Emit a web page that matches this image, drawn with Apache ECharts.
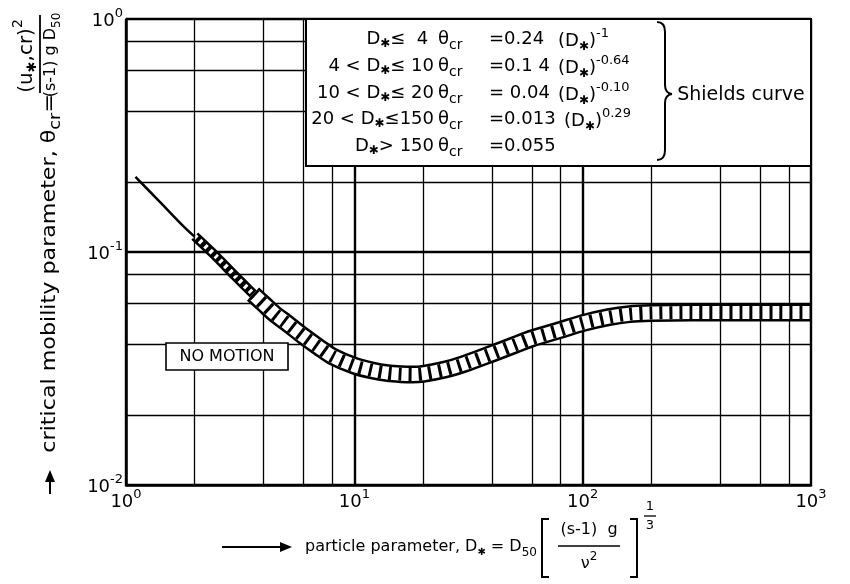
<!DOCTYPE html>
<html><head><meta charset="utf-8">
<script src="https://cdn.jsdelivr.net/npm/echarts@6/dist/echarts.min.js"></script>
<style>html,body{margin:0;padding:0;background:#fff}#c{width:850px;height:584px}</style>
</head><body><div id="c"></div>
<script>
// ---- data ----
const xTickValues = [1, 10, 100, 1000];
const yTickValues = [0.01, 0.1, 1];
const xMinorGrid = [2, 4, 6, 8, 20, 40, 60, 80, 200, 400, 600, 800];
const yMinorGrid = [0.02, 0.04, 0.06, 0.08, 0.2, 0.4, 0.6, 0.8];
// thin start of the Shields curve
const thinD     = [1.1, 1.4, 1.8, 2.2];
const thinTheta = [0.21, 0.165, 0.128, 0.107];
// narrow part of the band
const midD      = [2.0, 2.5, 3.0, 3.5, 4.0];
const midTheta  = [0.117, 0.095, 0.079, 0.068, 0.060];
// main hatched band (centre line)
const bandD     = [3.6, 4, 4.5, 5, 6, 7, 8, 10, 12, 14, 16, 18, 20, 25, 30, 40, 50, 60, 80, 100, 130, 160, 200, 300, 500, 700, 1000];
const bandTheta = [0.066, 0.060, 0.054, 0.050, 0.0435, 0.039, 0.0357, 0.0325, 0.031, 0.0302, 0.0299, 0.0298, 0.0300, 0.0313, 0.0330, 0.0366, 0.0398, 0.0426, 0.0463, 0.0495, 0.0525, 0.0541, 0.0547, 0.055, 0.055, 0.055, 0.055];

const F = 'DejaVu Sans';
const chart = echarts.init(document.getElementById('c'), null, {renderer: 'canvas'});
const pairs = (a, b) => a.map((v, i) => [v, b[i]]);

const labelRich = {
  b: {fontSize: 18, fontFamily: F, color: '#000', verticalAlign: 'bottom'},
  s: {fontSize: 13, fontFamily: F, color: '#000', verticalAlign: 'bottom', padding: [0, 0, 10, 0]}
};
const expFmt = v => '{b|10}{s|' + Math.round(Math.log10(v)) + '}';

const gridLineSeries = {
  type: 'line', data: [], silent: true, z: 1,
  markLine: {
    silent: true, symbol: ['none', 'none'], animation: false,
    label: {show: false},
    lineStyle: {color: '#000', width: 1.3, type: 'solid'},
    data: xMinorGrid.map(v => ({xAxis: v})).concat(yMinorGrid.map(v => ({yAxis: v})))
  }
};

const mk = (fs) => ({
  n: {fontSize: fs, fontFamily: F, fill: '#000', verticalAlign: 'bottom', padding: [0, 0, 4, 0]},
  d: {fontSize: Math.round(fs * 0.78), fontFamily: F, fill: '#000', verticalAlign: 'bottom', padding: [0, 0, 0, 0]},
  s: {fontSize: Math.round(fs * 0.72), fontFamily: F, fill: '#000', verticalAlign: 'bottom', padding: [0, 0, Math.round(fs * 0.8), 0]},
  st: {fontSize: Math.round(fs * 0.65), fontFamily: F, fill: '#000', verticalAlign: 'bottom', padding: [0, 0, 2, 0]}
});
const R = mk(18), R16 = mk(16), R20 = mk(20);
const txt = (x, y, text, extra, rich) => ({
  type: 'text', x: x, y: y, z: 110,
  style: Object.assign({text: text, fill: '#000', font: '18px "' + F + '"', rich: rich || R, verticalAlign: 'middle'}, extra || {})
});
const ln = (x1, y1, x2, y2, w) => ({type: 'line', z: 110, shape: {x1, y1, x2, y2}, style: {stroke: '#000', lineWidth: w || 2}});
const qc = (x1, y1, cx, cy, x2, y2) => ({type: 'bezierCurve', z: 110, shape: {x1, y1, cpx1: cx, cpy1: cy, x2, y2}, style: {stroke: '#000', lineWidth: 2, fill: null}});
const pl = (pts, w) => ({type: 'polyline', z: 110, shape: {points: pts}, style: {stroke: '#000', lineWidth: w || 2, fill: null}});

const DS = '{n|D}{st|✱}';
const conds = [DS + '{n|≤  4 }', '{n|4 < }' + DS + '{n|≤ 10}', '{n|10 < }' + DS + '{n|≤ 20}', '{n|20 < }' + DS + '{n|≤150}', DS + '{n|> 150}'];
const coefs = ['{n|=0.24}', '{n|=0.1 4}', '{n|= 0.04}', '{n|=0.013}', '{n|=0.055}'];
const pows  = ['{n|(}' + DS + '{n|)}{s|-1}', '{n|(}' + DS + '{n|)}{s|-0.64}', '{n|(}' + DS + '{n|)}{s|-0.10}', '{n|(}' + DS + '{n|)}{s|0.29}', ''];
const rowY = [41, 68, 95, 121, 148];

const graphics = [
  {type: 'rect', z: 100, shape: {x: 306, y: 19, width: 505, height: 147}, style: {fill: '#fff', stroke: '#000', lineWidth: 2}},
  qc(657, 22, 665, 22, 665, 32), ln(665, 32, 665, 85), qc(665, 85, 665, 93, 672, 94), qc(672, 94, 665, 95, 665, 103), ln(665, 103, 665, 150), qc(665, 150, 665, 160, 657, 160),
  txt(741, 95, 'Shields curve', {align: 'center', font: '19px "' + F + '"'}),
  {type: 'rect', z: 100, shape: {x: 166, y: 343, width: 122, height: 27}, style: {fill: '#fff', stroke: '#000', lineWidth: 1.6}},
  txt(227, 357, 'NO MOTION', {align: 'center', font: '16px "' + F + '"'})
];
rowY.forEach((y, i) => {
  graphics.push(txt(434, y, conds[i], {align: 'right'}));
  graphics.push(txt(438, y, '{n|θ}{d|cr}', {align: 'left'}));
  graphics.push(txt(489, y, coefs[i], {align: 'left'}));
  if (pows[i]) graphics.push(txt(i === 3 ? 564 : 558, y, pows[i], {align: 'left'}));
});

// y-axis title (rotated, reads bottom to top)
graphics.push({
  type: 'group', x: 52, y: 94, rotation: Math.PI / 2, z: 110,
  children: [
    {type: 'text', x: 0, y: 0, scaleX: 1.11, style: {text: '{n|critical mobility parameter, θ}{d|cr}{n|=}', rich: R20, align: 'right', verticalAlign: 'middle'}},
    {type: 'text', x: 38, y: -26, style: {text: '{n|(u}{st|✱}{n|,cr)}{s|2}', rich: R20, align: 'center', verticalAlign: 'middle'}},
    {type: 'line', shape: {x1: 1, y1: -12, x2: 79, y2: -12}, style: {stroke: '#000', lineWidth: 1.8}},
    {type: 'text', x: 39, y: 1, style: {text: '{n|(s-1) g D}{d|50}', rich: R16, align: 'center', verticalAlign: 'middle'}}
  ]
});
// y arrow
graphics.push(ln(50, 494, 50, 478));
graphics.push({type: 'polygon', z: 110, shape: {points: [[45, 482], [55, 482], [50, 470]]}, style: {fill: '#000'}});
// x arrow and title
graphics.push(ln(222, 547, 285, 547));
graphics.push({type: 'polygon', z: 110, shape: {points: [[280, 542], [280, 552], [292, 547]]}, style: {fill: '#000'}});
graphics.push(txt(305, 549, '{n|particle parameter, D}{st|✱}{n| = D}{d|50}', {align: 'left'}, R16));
graphics.push(pl([[549, 519], [542, 519], [542, 577], [549, 577]]));
graphics.push(pl([[630, 519], [637, 519], [637, 577], [630, 577]]));
graphics.push(txt(589, 532, '{n|(s-1)  g}', {align: 'center'}, R16));
graphics.push(ln(558, 546, 620, 546, 1.6));
graphics.push(txt(589, 563, '{n|ν}{s|2}', {align: 'center'}, R16));
graphics.push(txt(650, 507, '1', {align: 'center', font: '13px "' + F + '"'}));
graphics.push(ln(644, 516, 656, 516, 1.3));
graphics.push(txt(650, 526, '3', {align: 'center', font: '13px "' + F + '"'}));

const option = {
  animation: false,
  backgroundColor: '#fff',
  grid: {left: 126, right: 39, top: 19, bottom: 99, show: false},
  xAxis: {
    type: 'log', logBase: 10, min: 1, max: 1000,
    axisLine: {show: true, onZero: false, lineStyle: {color: '#000', width: 2.5}},
    axisTick: {show: false},
    splitLine: {show: true, lineStyle: {color: '#000', width: 2.4}},
    axisLabel: {margin: 3, formatter: expFmt, rich: labelRich}
  },
  yAxis: {
    type: 'log', logBase: 10, min: 0.01, max: 1,
    axisLine: {show: true, onZero: false, lineStyle: {color: '#000', width: 2.5}},
    axisTick: {show: false},
    splitLine: {show: true, lineStyle: {color: '#000', width: 2.4}},
    axisLabel: {margin: 3, formatter: expFmt, rich: labelRich}
  },
  series: [
    gridLineSeries,
    {type: 'line', z: 3, data: pairs(thinD, thinTheta), symbol: 'none', smooth: 0.3, lineStyle: {color: '#000', width: 2.5}},
    {type: 'line', z: 3, data: pairs(midD, midTheta), symbol: 'none', smooth: 0.3, lineStyle: {color: '#000', width: 10, cap: 'butt', join: 'round'}},
    {type: 'line', z: 4, data: pairs(midD, midTheta), symbol: 'none', smooth: 0.3, lineStyle: {color: '#fff', width: 5, cap: 'butt', type: [3, 4]}},
    {type: 'line', z: 5, data: pairs(bandD, bandTheta), symbol: 'none', smooth: 0.3, lineStyle: {color: '#000', width: 18, cap: 'butt', join: 'round'}},
    {type: 'line', z: 6, data: pairs(bandD, bandTheta), symbol: 'none', smooth: 0.3, lineStyle: {color: '#fff', width: 13, cap: 'butt', join: 'round'}},
    {type: 'line', z: 7, data: pairs(bandD, bandTheta), symbol: 'none', smooth: 0.3, lineStyle: {color: '#000', width: 13, cap: 'butt', type: [3, 7]}}
  ],
  graphic: graphics
};
chart.setOption(option);
</script>
</body></html>
